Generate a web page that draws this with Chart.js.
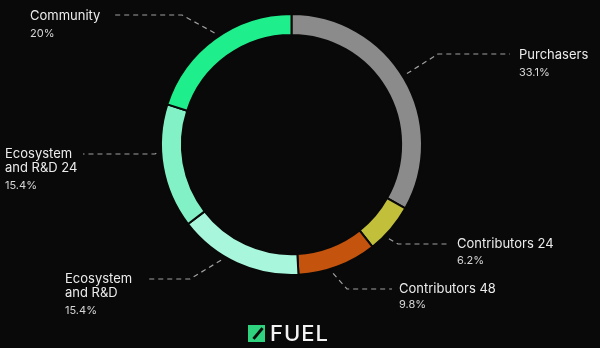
<!DOCTYPE html>
<html>
<head>
<meta charset="utf-8">
<script src="https://cdn.jsdelivr.net/npm/chart.js@4.4.1/dist/chart.umd.min.js"></script>
<style>
  html, body { margin: 0; padding: 0; background: #090909; }
  .wrap { position: relative; width: 600px; height: 348px; }
  .logo { position: absolute; left: 248px; top: 322px; display: flex; align-items: center; }
  .logo .mark { width: 17px; height: 17px; background: #2fd27e; position: relative; overflow: hidden; }
  .logo .mark:after { content: ""; position: absolute; left: 3px; top: 7px; width: 14px; height: 3px; background: #0b0b0b; transform: rotate(-50deg); }
  .logo .word { color: #f2f2f2; font: 500 22px Inter, "Noto Sans", sans-serif; letter-spacing: 1px; margin-left: 5px; line-height: 22px; }
</style>
</head>
<body>
<div class="wrap">
  <canvas id="donut" width="600" height="348"></canvas>
  <div class="logo"><div class="mark"></div><div class="word">FUEL</div></div>
</div>
<script>
// token allocation, clockwise from the top
const categories = ["Purchasers", "Contributors 24", "Contributors 48", "Ecosystem and R&D", "Ecosystem and R&D 24", "Community"];
const shares = [33.1, 6.2, 9.8, 15.4, 15.4, 20];
const shareLabels = ["33.1%", "6.2%", "9.8%", "15.4%", "15.4%", "20%"];
const colors = ["#8b8b8b", "#c2bf3a", "#c4530d", "#a8f7dc", "#82f2c6", "#1fee8c"];

// where each callout sits (t = point along the arc where the leader starts)
const callouts = [
    {t: 0.49, elbow: [438, 54], lineEnd: 510, textX: 519, nameY: 59, pctY: 76, wrap: false},
    {t: 0.66, elbow: [398, 244], lineEnd: 448, textX: 457, nameY: 248, pctY: 264, wrap: false},
    {t: 0.58, elbow: [347, 289], lineEnd: 392, textX: 399, nameY: 293, pctY: 308, wrap: false},
    {t: 0.62, elbow: [190, 279], lineEnd: 147, textX: 65, nameY: 283, pctY: 314, wrap: true},
    {t: 0.61, elbow: [155, 154], lineEnd: 83, textX: 5, nameY: 158, pctY: 189, wrap: true},
    {t: 0.52, elbow: [182, 15], lineEnd: 113, textX: 30, nameY: 20, pctY: 37, wrap: false}
];

const calloutPlugin = {
    id: "callouts",
    afterDraw(chart) {
        const ctx = chart.ctx;
        const arcs = chart.getDatasetMeta(0).data;
        ctx.save();
        arcs.forEach((arc, i) => {
            const c = callouts[i];
            const p = arc.getProps(["x", "y", "startAngle", "endAngle", "outerRadius"], true);
            const a = p.startAngle + c.t * (p.endAngle - p.startAngle);
            const r = p.outerRadius + 5;
            const sx = p.x + Math.cos(a) * r;
            const sy = p.y + Math.sin(a) * r;

            ctx.strokeStyle = "#a0a0a0";
            ctx.lineWidth = 1.2;
            ctx.setLineDash([5, 4]);
            ctx.beginPath();
            ctx.moveTo(sx, sy);
            ctx.lineTo(c.elbow[0], c.elbow[1]);
            ctx.lineTo(c.lineEnd, c.elbow[1]);
            ctx.stroke();
            ctx.setLineDash([]);

            ctx.textAlign = "left";
            ctx.textBaseline = "alphabetic";
            ctx.fillStyle = "#ececec";
            ctx.font = "13px Inter, 'Noto Sans', sans-serif";
            const name = categories[i];
            if (c.wrap) {
                const k = name.indexOf(" and ");
                ctx.fillText(name.slice(0, k), c.textX, c.nameY);
                ctx.fillText(name.slice(k + 1), c.textX, c.nameY + 14);
            } else {
                ctx.fillText(name, c.textX, c.nameY);
            }
            ctx.fillStyle = "#d6d6d6";
            ctx.font = "11px Inter, 'Noto Sans', sans-serif";
            ctx.fillText(shareLabels[i], c.textX, c.pctY);
        });
        ctx.restore();
    }
};

new Chart(document.getElementById("donut"), {
    type: "doughnut",
    data: {
        labels: categories,
        datasets: [{
            data: shares,
            backgroundColor: colors,
            borderColor: "#090909",
            borderWidth: 2
        }]
    },
    options: {
        responsive: false,
        animation: false,
        cutout: "84%",
        layout: {padding: {left: 160, right: 177, top: 13, bottom: 72}},
        plugins: {
            legend: {display: false},
            tooltip: {enabled: false}
        },
        events: []
    },
    plugins: [calloutPlugin]
});
</script>
</body>
</html>
